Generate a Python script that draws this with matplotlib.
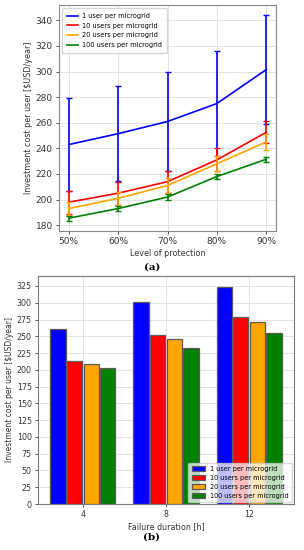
import matplotlib
matplotlib.use("Agg")
import matplotlib.pyplot as plt
import numpy as np

# ---- data (a) ----
protection_levels = [50, 60, 70, 80, 90]
protection_labels = ["50%", "60%", "70%", "80%", "90%"]
series_names = ["1 user per microgrid", "10 users per microgrid",
                "20 users per microgrid", "100 users per microgrid"]
series_colors = ["blue", "red", "orange", "green"]
cost_1 = [243, 251.5, 261, 275, 301.5]
err_1 = [36, 37, 39, 41, 42.5]
cost_10 = [198, 205, 214, 231, 252.5]
err_10 = [9, 9, 8.5, 9, 8.5]
cost_20 = [193, 201, 211, 228, 245]
err_20 = [5, 5, 6, 6, 6]
cost_100 = [185.5, 193, 202, 218, 231.5]
err_100 = [2, 2, 2, 2, 2]

# ---- data (b) ----
failure_durations = ["4", "8", "12"]
bar_1 = [261, 301.5, 324]
bar_10 = [213, 252, 279]
bar_20 = [209, 246, 272]
bar_100 = [203, 232, 255]

fig = plt.figure(figsize=(3.04, 5.5), dpi=100)
tc = "#333333"

# ---------- (a) ----------
ax1 = fig.add_axes([0.194, 0.58, 0.714, 0.411])
for vals, errs, name, col in zip([cost_1, cost_10, cost_20, cost_100],
                                 [err_1, err_10, err_20, err_100],
                                 series_names, series_colors):
    ax1.plot(protection_levels, vals, color=col, linewidth=1.2, label=name)
    ax1.errorbar(protection_levels, vals, yerr=errs, fmt="none", ecolor=col,
                 elinewidth=1.2, capsize=2, capthick=1)
ax1.set_xticks(protection_levels)
ax1.set_xticklabels(protection_labels)
ax1.set_yticks(np.arange(180, 341, 20))
ax1.grid(True, color="#e3e3e3", linewidth=0.7)
ax1.set_axisbelow(True)
ax1.tick_params(labelsize=6.5, length=2.5, width=0.6, colors=tc, pad=2)
ax1.set_xlabel("Level of protection", fontsize=5.8, color=tc, labelpad=2)
ax1.set_ylabel("Investment cost per user [$USD/year]", fontsize=5.8, color=tc, labelpad=2)
for s in ax1.spines.values():
    s.set_color("#888888")
    s.set_linewidth(0.8)
ax1.legend(loc="upper left", fontsize=4.8, handlelength=1.6, handletextpad=0.7,
           framealpha=0.8, borderpad=0.7, labelspacing=0.55)

fig.text(0.5, 1 - 267 / 550, "(a)", ha="center", va="center",
         fontsize=7.5, fontweight="bold", family="DejaVu Serif")

# ---------- (b) ----------
ax2 = fig.add_axes([0.125, 0.0836, 0.842, 0.415])
x = np.arange(len(failure_durations))
w = 0.2
for i, (vals, name, col) in enumerate(zip([bar_1, bar_10, bar_20, bar_100],
                                          series_names, series_colors)):
    ax2.bar(x + (i - 1.5) * w, vals, width=w * 0.92, color=col,
            edgecolor="#5a5a5a", linewidth=0.9, label=name)
ax2.set_xlim(-0.54, 2.54)
ax2.set_xticks(x)
ax2.set_xticklabels(failure_durations)
ax2.set_yticks(np.arange(0, 326, 25))
ax2.grid(True, color="#e3e3e3", linewidth=0.7)
ax2.set_axisbelow(True)
ax2.tick_params(labelsize=5.7, length=2.5, width=0.6, colors=tc, pad=2)
ax2.set_xlabel("Failure duration [h]", fontsize=5.8, color=tc, labelpad=2)
ax2.set_ylabel("Investment cost per user [$USD/year]", fontsize=5.5, color=tc, labelpad=2)
for s in ax2.spines.values():
    s.set_color("#777777")
    s.set_linewidth(0.8)
ax2.legend(loc="lower right", fontsize=4.7, framealpha=0.75, borderpad=0.5,
           labelspacing=0.45, handlelength=2.0, borderaxespad=0.3)

fig.text(0.5, 1 - 537 / 550, "(b)", ha="center", va="center",
         fontsize=7.5, fontweight="bold", family="DejaVu Serif")

fig.savefig("out.png", dpi=100)
